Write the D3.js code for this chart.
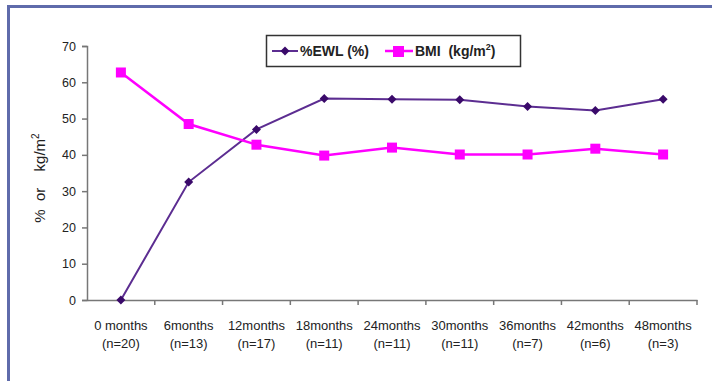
<!DOCTYPE html>
<html><head><meta charset="utf-8">
<script src="https://cdn.jsdelivr.net/npm/d3@7"></script>
<style>body{margin:0;background:#fff;} svg{display:block;}</style>
</head><body>
<svg id="c" width="712" height="381"></svg>
<script>
const categories = ["0 months","6months","12months","18months","24months","30months","36months","42months","48months"];
const sampleSizes = ["(n=20)","(n=13)","(n=17)","(n=11)","(n=11)","(n=11)","(n=7)","(n=6)","(n=3)"];
const ewl = [0, 32.5, 47, 55.5, 55.3, 55.2, 53.3, 52.2, 55.3];
const bmi = [62.7, 48.5, 42.8, 39.8, 42, 40.1, 40.1, 41.7, 40.1];
const yTicks = [0,10,20,30,40,50,60,70];

const svg = d3.select("#c");
const font = "'Liberation Sans Narrow', 'Liberation Sans', Arial, sans-serif";

// frame
svg.append("path").attr("d","M8.5,381 V6.5 H712").attr("fill","none").attr("stroke","#5f6bab").attr("stroke-width",3);

const x = d3.scaleBand().domain(categories).range([87,697]);
const y = d3.scaleLinear().domain([0,70]).range([300,46]);

// y axis
const ya = svg.append("g").attr("transform","translate(87,0)")
  .call(d3.axisLeft(y).tickValues(yTicks).tickSize(5).tickPadding(6));
ya.select(".domain").attr("stroke","#777").attr("stroke-width",1.5);
ya.selectAll(".tick line").attr("stroke","#777").attr("stroke-width",1.5);
ya.selectAll("text").attr("font-family",font).attr("font-size",12.5).attr("fill","#222");

// x axis
const xa = svg.append("g").attr("transform","translate(0,300)")
  .call(d3.axisBottom(x).tickSize(0).tickFormat(""));
xa.select(".domain").attr("stroke","#777").attr("stroke-width",1.5);
const bounds = categories.map((c)=>x(c)).concat([x.range()[1]]);
xa.selectAll(".sep").data(bounds.slice(1)).enter().append("line")
  .attr("x1",d=>d).attr("x2",d=>d).attr("y1",0).attr("y2",5)
  .attr("stroke","#777").attr("stroke-width",1.5);
const lbl = svg.append("g").attr("font-family",font).attr("font-size",13).attr("fill","#222").attr("text-anchor","middle");
categories.forEach((c,i)=>{
  const cx = x(c)+x.bandwidth()/2;
  lbl.append("text").attr("x",cx).attr("y",330).text(c);
  lbl.append("text").attr("x",cx).attr("y",348).text(sampleSizes[i]);
});

// y label
svg.append("text").attr("transform","translate(45,178) rotate(-90)")
  .attr("text-anchor","middle").attr("font-family",font).attr("font-size",15).attr("fill","#222")
  .attr("word-spacing",4)
  .html("% or &#160;kg/m<tspan font-size='10' dy='-6'>2</tspan>");

const line = d3.line().x(d=>x(categories[d[0]])+x.bandwidth()/2).y(d=>y(d[1]));
const diamond = "M0,-4.5L4.5,0L0,4.5L-4.5,0Z";

// EWL
const ewlPts = ewl.map((v,i)=>[i,v]);
svg.append("path").datum(ewlPts).attr("d",line).attr("fill","none").attr("stroke","#5c2d91").attr("stroke-width",2);
svg.selectAll(".ewl").data(ewlPts).enter().append("path")
  .attr("transform",d=>`translate(${x(categories[d[0]])+x.bandwidth()/2},${y(d[1])})`)
  .attr("d",diamond).attr("fill","#3a0a6a");

// BMI
const bmiPts = bmi.map((v,i)=>[i,v]);
svg.append("path").datum(bmiPts).attr("d",line).attr("fill","none").attr("stroke","#ff00ff").attr("stroke-width",2.5);
svg.selectAll(".bmi").data(bmiPts).enter().append("rect")
  .attr("x",d=>x(categories[d[0]])+x.bandwidth()/2-5).attr("y",d=>y(d[1])-5)
  .attr("width",10).attr("height",10).attr("fill","#ff00ff");

// legend
const lg = svg.append("g");
lg.append("rect").attr("x",266.5).attr("y",35.5).attr("width",254).attr("height",31)
  .attr("fill","#fff").attr("stroke","#333").attr("stroke-width",1.5);
lg.append("line").attr("x1",272).attr("x2",298).attr("y1",51).attr("y2",51).attr("stroke","#5c2d91").attr("stroke-width",2);
lg.append("path").attr("transform","translate(285,51)").attr("d",diamond).attr("fill","#3a0a6a");
lg.append("text").attr("x",300).attr("y",56).attr("font-family",font).attr("font-size",14).attr("font-weight","bold").attr("fill","#222").text("%EWL (%)");
lg.append("line").attr("x1",385).attr("x2",413).attr("y1",51).attr("y2",51).attr("stroke","#ff00ff").attr("stroke-width",2.5);
lg.append("rect").attr("x",393).attr("y",46).attr("width",11).attr("height",11).attr("fill","#ff00ff");
lg.append("text").attr("x",415).attr("y",56).attr("font-family",font).attr("font-size",14).attr("font-weight","bold").attr("fill","#222")
  .html("BMI &#160;(kg/m<tspan font-size='9' dy='-6'>2</tspan><tspan dy='6'>)</tspan>");
</script>
</body></html>
